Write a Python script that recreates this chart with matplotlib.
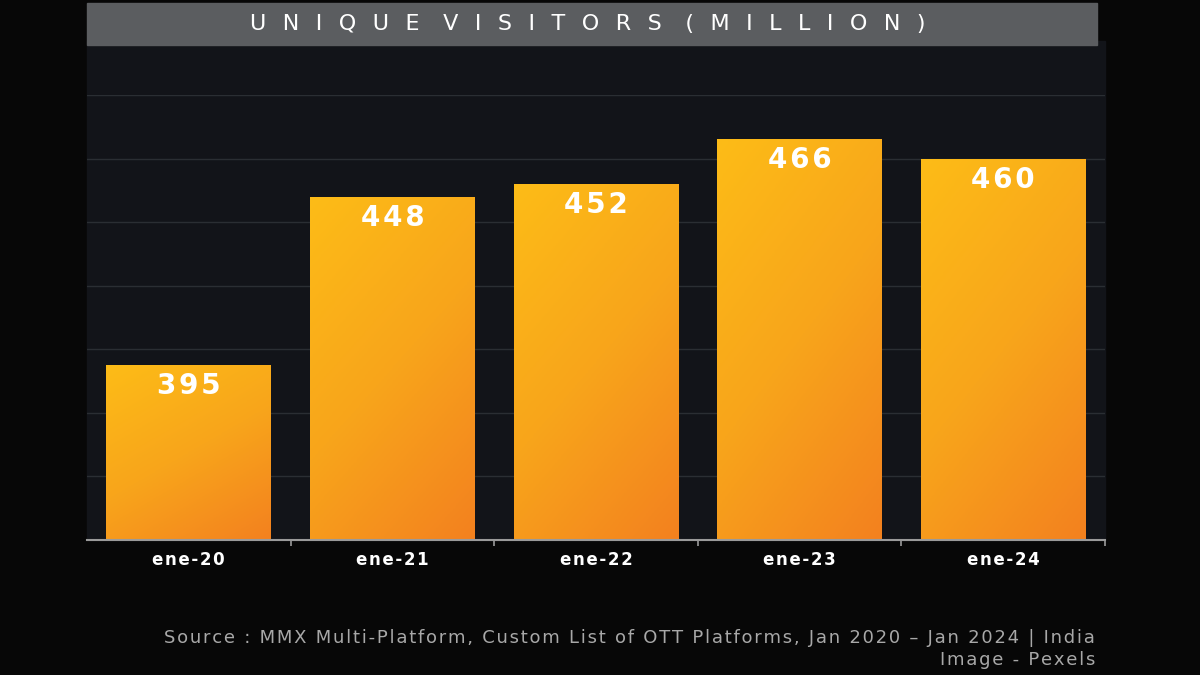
import numpy as np
import matplotlib.pyplot as plt
from matplotlib.colors import LinearSegmentedColormap
from matplotlib.patches import Rectangle

# data
months = ["ene-20", "ene-21", "ene-22", "ene-23", "ene-24"]
visitors = [395, 448, 452, 466, 460]

title = "UNIQUE VISITORS (MILLION)"
source = "Source : MMX Multi-Platform, Custom List of OTT Platforms, Jan 2020 \u2013 Jan 2024 | India"
credit = "Image - Pexels"

plt.rcParams['font.family'] = ['DejaVu Sans']

HAIR = "\u200a"


def track(s, gap=HAIR):
    # crude letter spacing
    return gap.join(s)


fig = plt.figure(figsize=(12, 6.75), dpi=100, facecolor="#070707")
fig.patches.append(Rectangle((0.0725, 0.2), 0.8483, 0.74,
                             transform=fig.transFigure, color="#121419", zorder=-1))
ax = fig.add_axes([0.0725, 0.2, 0.8483, 0.6593])
ax.set_facecolor("#121419")

# title bar
fig.patches.append(Rectangle((0.0725, 0.9333), 0.8415, 0.0623,
                             transform=fig.transFigure, color="#5b5d60", zorder=1))
letter_gap = "  " + HAIR
title_txt = (letter_gap + " ").join(letter_gap.join(w) for w in title.split())
fig.text(0.4896, 0.9644, title_txt, color="white", fontsize=16,
         ha="center", va="center", zorder=2)

# bars with diagonal gradient
cmap = LinearSegmentedColormap.from_list("bar", ["#fdbc17", "#f8a51b", "#f3811f"])
ymin = 340
x = np.arange(len(months))
bars = ax.bar(x, [v - ymin for v in visitors], bottom=ymin, width=0.81,
              color="none", edgecolor="none", zorder=2)
u, v = np.meshgrid(np.linspace(0, 1, 60), np.linspace(0, 1, 120))
grad = 0.35 * u + 0.65 * v
for b, val in zip(bars, visitors):
    x0, w = b.get_x(), b.get_width()
    im = ax.imshow(grad, cmap=cmap, extent=(x0, x0 + w, ymin, val),
                   origin="upper", aspect="auto", zorder=2, vmin=0, vmax=1)
    im.set_clip_path(b)
    ax.annotate(track(str(val)), (x0 + w / 2, val), xytext=(0, -21),
                textcoords="offset pixels", ha="center", va="center",
                color="white", fontsize=20, fontweight="bold", zorder=3)

ax.set_xlim(-0.5, len(months) - 0.5)
ax.set_ylim(ymin, 480)
ax.set_yticks(range(340, 481, 20))
ax.yaxis.grid(True, color="#2a2e33", lw=1)
ax.set_axisbelow(True)
ax.tick_params(axis="y", length=0, labelleft=False)

ax.set_xticks(x)
ax.set_xticklabels([track(m) for m in months], color="white", fontsize=12,
                   fontweight="bold")
ax.set_xticks(np.arange(0.5, len(months), 1), minor=True)
ax.tick_params(axis="x", which="major", length=0, pad=8)
ax.tick_params(axis="x", which="minor", length=4, color="#9a9a9a", width=1.2)

for s in ["top", "right", "left"]:
    ax.spines[s].set_visible(False)
ax.spines["bottom"].set_color("#9a9a9a")
ax.spines["bottom"].set_linewidth(1.5)

fig.text(0.9125, 0.0548, track(source), color="#a8a8a8", fontsize=13,
         ha="right", va="center")
fig.text(0.9125, 0.0222, track(credit), color="#a8a8a8", fontsize=13,
         ha="right", va="center")

fig.savefig("out.png", dpi=100, facecolor=fig.get_facecolor())
